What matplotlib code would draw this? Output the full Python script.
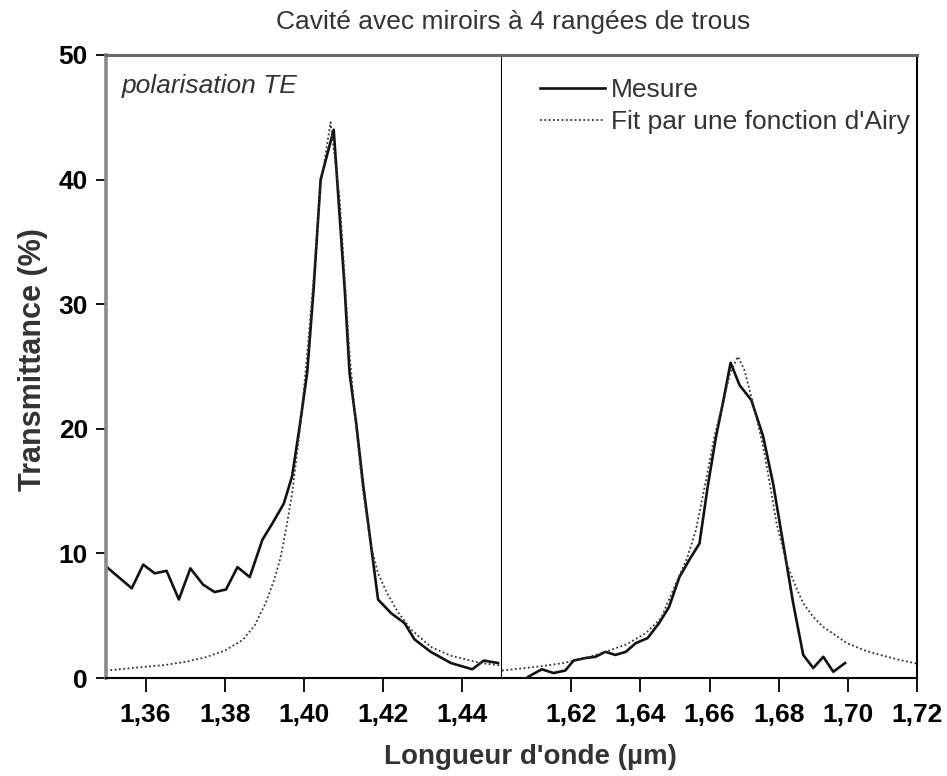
import matplotlib
matplotlib.use('Agg')
from matplotlib import pyplot, ticker

# fmt: off
# Mesure, bande gauche (longueur d'onde en µm, transmittance en %)
mesure_gauche_x = [1.3502, 1.3565, 1.3594, 1.3623, 1.3653, 1.3684, 1.3713, 1.3745, 1.3774, 1.3803,
                   1.3832, 1.3863, 1.3895, 1.3920, 1.3949, 1.3970, 1.3990, 1.4008, 1.4024, 1.4042,
                   1.4075, 1.4103, 1.4115, 1.4132, 1.4149, 1.4187, 1.4220, 1.4254, 1.4279, 1.4320,
                   1.4371, 1.4425, 1.4454, 1.4490]
mesure_gauche_y = [8.9, 7.2, 9.1, 8.4, 8.6, 6.3, 8.8, 7.5, 6.9, 7.1,
                   8.9, 8.1, 11.1, 12.4, 14.0, 16.2, 20.4, 24.5, 31.1, 40.0,
                   44.0, 31.1, 24.5, 20.4, 15.6, 6.3, 5.2, 4.4, 3.1, 2.1,
                   1.2, 0.7, 1.4, 1.2]

# Fit d'Airy, bande gauche
fit_gauche_x = [1.350, 1.355, 1.360, 1.365, 1.370, 1.375, 1.380, 1.3845, 1.3875, 1.3903,
                1.3925, 1.3941, 1.3955, 1.397, 1.399, 1.4008, 1.4024, 1.4042, 1.4067, 1.409,
                1.4103, 1.4115, 1.4132, 1.4149, 1.417, 1.4187, 1.421, 1.4237, 1.427, 1.432,
                1.437, 1.4446, 1.450]
fit_gauche_y = [0.6, 0.75, 0.9, 1.05, 1.3, 1.65, 2.2, 3.05, 4.2, 6.0,
                7.9, 9.7, 12.0, 14.8, 20.0, 26.0, 32.0, 39.5, 44.6, 38.5,
                32.0, 26.0, 20.0, 15.0, 10.5, 8.4, 6.8, 5.3, 3.9, 2.5,
                1.8, 1.2, 1.0]

# Mesure, bande droite
mesure_droite_x = [1.6076, 1.6115, 1.6149, 1.6183, 1.6207, 1.6241, 1.6270, 1.6299, 1.6328, 1.6358,
                   1.6387, 1.6421, 1.6454, 1.6483, 1.6513, 1.6542, 1.6571, 1.6595, 1.6619, 1.6639,
                   1.6661, 1.6687, 1.6721, 1.6755, 1.6784, 1.6813, 1.6842, 1.6871, 1.6900, 1.6929,
                   1.6958, 1.6992]
mesure_droite_y = [0.1, 0.7, 0.4, 0.6, 1.4, 1.6, 1.7, 2.1, 1.85, 2.1,
                   2.8, 3.2, 4.4, 5.7, 8.1, 9.5, 10.8, 15.4, 19.4, 22.1,
                   25.3, 23.5, 22.3, 19.4, 15.6, 10.8, 6.0, 1.85, 0.8, 1.7,
                   0.5, 1.2]

# Fit d'Airy, bande droite
fit_droite_x = [1.600, 1.605, 1.610, 1.6174, 1.6235, 1.6299, 1.636, 1.6416, 1.646, 1.6503,
                1.6535, 1.6561, 1.659, 1.6615, 1.6639, 1.666, 1.6682, 1.670, 1.6716, 1.6735,
                1.6755, 1.6775, 1.6794, 1.6823, 1.685, 1.6871, 1.690, 1.6929, 1.6997, 1.705,
                1.7094, 1.715, 1.720]
fit_droite_y = [0.6, 0.75, 0.9, 1.18, 1.55, 2.1, 2.7, 3.6, 4.8, 7.6,
                9.6, 11.9, 15.9, 19.5, 22.1, 24.5, 25.8, 24.8, 23.1, 21.0,
                18.6, 15.5, 12.4, 9.2, 7.3, 6.0, 4.9, 4.1, 2.8, 2.2,
                1.85, 1.45, 1.15]

ticks_gauche = [1.36, 1.38, 1.40, 1.42, 1.44]
ticks_droite = [1.62, 1.64, 1.66, 1.68, 1.70, 1.72]
ticks_y = [0, 10, 20, 30, 40, 50]
# fmt: on

_FONT_SIZE = 19
_LINE_COLOR = '#111111'
_FIT_COLOR = '#333333'
_TEXT_COLOR = '#333333'
_DOTS = (0, (1, 1.4))

pyplot.rcParams['font.family'] = ['Liberation Sans', 'DejaVu Sans']

W, H = 947, 776
fig = pyplot.figure(figsize=(W / 100, H / 100), dpi=100)

bottom = 1 - 678 / H
height = 623 / H
ax_g = fig.add_axes([106 / W, bottom, 396 / W, height])
ax_d = fig.add_axes([502 / W, bottom, 415 / W, height])


def virgule(x, pos):
    return f'{x:.2f}'.replace('.', ',')


# Bande gauche
ax_g.plot(mesure_gauche_x, mesure_gauche_y, color=_LINE_COLOR, lw=1.9, label='Mesure')
ax_g.plot(fit_gauche_x, fit_gauche_y, color=_FIT_COLOR, lw=1.3, linestyle=_DOTS,
          label="Fit par une fonction d'Airy")
ax_g.set_xlim(1.35, 1.45)
ax_g.set_ylim(0, 50)
ax_g.set_xticks(ticks_gauche)
ax_g.set_yticks(ticks_y)
ax_g.xaxis.set_major_formatter(ticker.FuncFormatter(virgule))
ax_g.tick_params(axis='x', direction='out', length=10, width=1.3, pad=8,
                 labelsize=_FONT_SIZE)
ax_g.tick_params(axis='y', direction='out', length=7, width=1.3, pad=6,
                 labelsize=_FONT_SIZE)
for lab in ax_g.get_xticklabels() + ax_g.get_yticklabels():
    lab.set_fontweight('bold')
ax_g.spines['left'].set_color('#8a8a8a')
ax_g.spines['left'].set_linewidth(2.6)
ax_g.spines['top'].set_color('#6a6a6a')
ax_g.spines['top'].set_linewidth(2.2)
ax_g.spines['right'].set_linewidth(1.5)
ax_g.spines['bottom'].set_linewidth(1.5)
ax_g.text(0.04, 0.95, 'polarisation TE', transform=ax_g.transAxes, style='italic',
          fontsize=_FONT_SIZE, color=_TEXT_COLOR, ha='left', va='center')

# Bande droite
l1, = ax_d.plot(mesure_droite_x, mesure_droite_y, color=_LINE_COLOR, lw=1.9, label='Mesure')
l2, = ax_d.plot(fit_droite_x, fit_droite_y, color=_FIT_COLOR, lw=1.3, linestyle=_DOTS,
                label="Fit par une fonction d'Airy")
ax_d.set_xlim(1.60, 1.72)
ax_d.set_ylim(0, 50)
ax_d.set_xticks(ticks_droite)
ax_d.set_yticks([])
ax_d.xaxis.set_major_formatter(ticker.FuncFormatter(virgule))
ax_d.tick_params(axis='x', direction='out', length=10, width=1.3, pad=8,
                 labelsize=_FONT_SIZE)
for lab in ax_d.get_xticklabels():
    lab.set_fontweight('bold')
ax_d.spines['left'].set_visible(False)
ax_d.spines['top'].set_color('#6a6a6a')
ax_d.spines['top'].set_linewidth(2.2)
ax_d.spines['right'].set_linewidth(1.5)
ax_d.spines['bottom'].set_linewidth(1.5)

leg = ax_d.legend(handles=[l1, l2], loc='upper left', frameon=False,
                  bbox_to_anchor=(540 / W, 1 - 78 / H), bbox_transform=fig.transFigure,
                  borderaxespad=0, borderpad=0, handlelength=2.45, handletextpad=0.25,
                  labelspacing=0.32, fontsize=_FONT_SIZE)
for t in leg.get_texts():
    t.set_color(_TEXT_COLOR)

# Titres
fig.text(513 / W, 1 - 22 / H, 'Cavité avec miroirs à 4 rangées de trous',
         fontsize=_FONT_SIZE, color=_TEXT_COLOR, ha='center', va='center')
fig.text(530 / W, 1 - 757 / H, "Longueur d'onde (µm)", fontsize=20, fontweight='bold',
         color=_TEXT_COLOR, ha='center', va='center')
fig.text(33 / W, 1 - 360 / H, 'Transmittance (%)', fontsize=22, fontweight='bold',
         color=_TEXT_COLOR, ha='center', va='center', rotation=90)

fig.savefig('out.png', dpi=100)
